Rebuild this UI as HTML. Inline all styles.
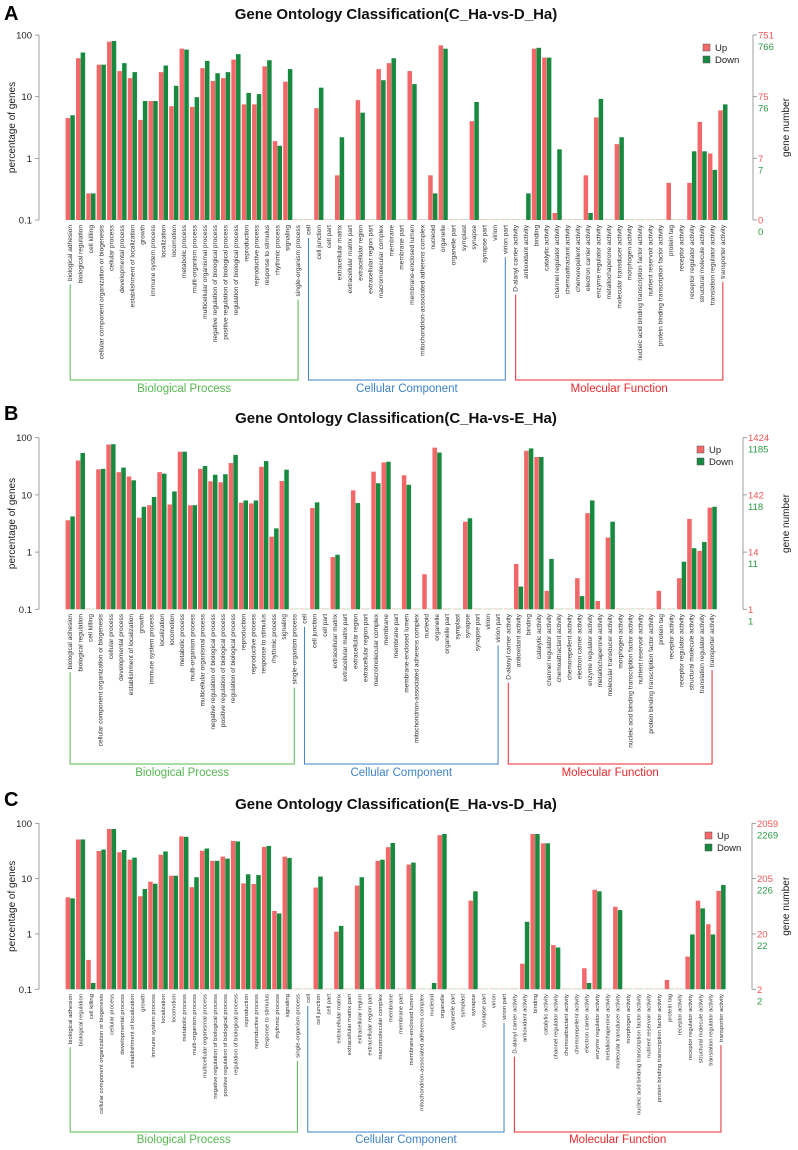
<!DOCTYPE html>
<html><head><meta charset="utf-8"><style>
html,body{margin:0;padding:0;background:#fff;}
svg{display:block;font-family:"Liberation Sans",Arial,sans-serif;}
</style></head><body>
<svg id="chart" width="798" height="1150" viewBox="0 0 798 1150" xmlns="http://www.w3.org/2000/svg"></svg>
<script>
const categories = ["biological adhesion","biological regulation","cell killing","cellular component organization or biogenesis","cellular process","developmental process","establishment of localization","growth","immune system process","localization","locomotion","metabolic process","multi-organism process","multicellular organismal process","negative regulation of biological process","positive regulation of biological process","regulation of biological process","reproduction","reproductive process","response to stimulus","rhythmic process","signaling","single-organism process",
"cell","cell junction","cell part","extracellular matrix","extracellular matrix part","extracellular region","extracellular region part","macromolecular complex","membrane","membrane part","membrane-enclosed lumen","mitochondrion-associated adherens complex","nucleoid","organelle","organelle part","symplast","synapse","synapse part","virion","virion part",
"D-alanyl carrier activity","antioxidant activity","binding","catalytic activity","channel regulator activity","chemoattractant activity","chemorepellent activity","electron carrier activity","enzyme regulator activity","metallochaperone activity","molecular transducer activity","morphogen activity","nucleic acid binding transcription factor activity","nutrient reservoir activity","protein binding transcription factor activity","protein tag","receptor activity","receptor regulator activity","structural molecule activity","translation regulator activity","transporter activity"];
const groupNames = ["Biological Process","Cellular Component","Molecular Function"];
const groupStart = [0,23,43];
const groupEnd = [22,42,63];
const leftTicks = [100,10,1,0.1];
const leftTickLabels = ["100","10","1","0.1"];

const aUp = [4.5,42,0.27,33,78,26,20,4.2,8.5,25,7,60,6.8,29,18,20,40,7.5,7.5,31,1.9,17.5,0,
 0,6.5,0,0.53,0,8.8,0,28,35,0,26,0,0.53,68,0,0,4,0,0,0,
 0,0,60,43,0.13,0,0,0.53,4.6,0,1.7,0,0,0,0,0.4,0,0.4,3.9,1.2,6];
const aDown = [5,52,0.27,33,80,35,25,8.5,8.5,32,15,58,9.8,38,24,25,49,11.5,11,39,1.6,28,0,
 0,14,0,2.2,0,5.5,0,18.5,42,0,16,0,0.27,60,0,0,8.2,0,0,0,
 0,0.27,62,43,1.4,0,0,0.13,9.2,0,2.2,0,0,0,0,0,0,1.3,1.3,0.65,7.5];
const bUp = [3.6,40,0,28,76,25,21,4,6.6,25,6.8,57,6.6,28.5,17.3,16.6,36,7.3,7.1,31,1.86,17.5,0,
 0,5.9,0,0.82,0,12,0,25.5,37,0,22,0,0.41,67,0,0,3.4,0,0,0,
 0,0.62,59,46,0.21,0,0,0.35,4.8,0.14,1.8,0,0,0,0,0.21,0,0.35,3.8,1.05,6];
const bDown = [4.2,54,0,28.5,77,30,18,6.2,9.2,23.5,11.5,57,6.6,32,22.5,23,50,8,8,39,2.6,27.6,0,
 0,7.4,0,0.9,0,7.2,0,16,38,0,15,0,0,55,0,0,3.9,0,0,0,
 0,0.25,65,46,0.76,0,0,0.17,8,0,3.4,0,0,0,0,0,0,0.68,1.17,1.5,6.2];
const cUp = [4.6,51,0.34,31.6,79,30,22,4.8,8.8,27,11.3,58,7,32,21,25,48,8.2,8,37.4,2.6,25,0,
 0,6.9,0,1.1,0,7.5,0,21,37,0,18,0,0,61,0,0,4,0,0,0,
 0,0.29,64,43.5,0.63,0,0,0.24,6.3,0,3.1,0,0,0,0,0.147,0,0.39,4,1.5,6];
const cDown = [4.4,51,0.13,33.5,79,33,24,6.5,8.1,31,11.3,57,10.6,35,21,23,47,12,11.6,39,2.35,23.7,0,
 0,10.9,0,1.4,0,10.6,0,22,44,0,19.5,0,0.13,64,0,0,5.9,0,0,0,
 0,1.66,64,43.5,0.57,0,0,0.13,5.9,0,2.7,0,0,0,0,0,0,0.98,2.9,0.98,7.7];
const aRightUp = ["751","75","7","0"], aRightDown = ["766","76","7","0"];
const bRightUp = ["1424","142","14","1"], bRightDown = ["1185","118","11","1"];
const cRightUp = ["2059","205","20","2"], cRightDown = ["2269","226","22","2"];
const titles = ["Gene Ontology Classification(C_Ha-vs-D_Ha)","Gene Ontology Classification(C_Ha-vs-E_Ha)","Gene Ontology Classification(E_Ha-vs-D_Ha)"];
const letters = ["A","B","C"];

const panels = [
 {up:aUp,down:aDown,ru:aRightUp,rd:aRightDown,top:35,bottom:220,x0:65,slot:10.36,rx:753,titleY:19,letterY:20,labelTop:225,fs:6.6,brY:380,gY:392,legX:703,legY:44},
 {up:bUp,down:bDown,ru:bRightUp,rd:bRightDown,top:437.7,bottom:609.3,x0:65,slot:10.19,rx:743,titleY:423,letterY:420,labelTop:614,fs:6.5,brY:764,gY:776,legX:697,legY:446},
 {up:cUp,down:cDown,ru:cRightUp,rd:cRightDown,top:823.3,bottom:989.3,x0:65,slot:10.33,rx:752,titleY:809,letterY:806,labelTop:994,fs:5.9,brY:1132,gY:1143,legX:705,legY:832}
];
const NS="http://www.w3.org/2000/svg";
const svg=document.getElementById('chart');
function mk(tag,attrs,parent,txt){const e=document.createElementNS(NS,tag);for(const k in attrs)e.setAttribute(k,attrs[k]);if(txt!==undefined)e.textContent=txt;(parent||svg).appendChild(e);return e;}
const RED="#f26868", GREEN="#178a3f", GCOL=["#55b84f","#3d82c8","#e8292c"];

panels.forEach((p,pi)=>{
 const g=mk('g',{});
 
 
 const yScale=v=>p.bottom-(Math.log10(v)+1)/3*(p.bottom-p.top);
 const xSlot=i=>p.x0+i*p.slot;
 let t=mk('text',{x:4,y:p.letterY,'font-size':20,'font-weight':'bold',fill:'#000'},g,letters[pi]);
 
 t=mk('text',{x:396,y:p.titleY,'font-size':15,'font-weight':'bold','text-anchor':'middle',fill:'#111'},g,titles[pi]);
 
 const la=mk('line',{x1:39,x2:39,y1:p.top,y2:p.bottom,stroke:'#888','stroke-width':0.8},g);
 
 leftTicks.forEach((v,k)=>{
  const y=yScale(v);
  mk('line',{x1:35,x2:39,y1:y,y2:y,stroke:'#888','stroke-width':0.8},g);
  const tl=mk('text',{x:32,y:y+3.5,'font-size':9.5,'text-anchor':'end',fill:'#222'},g,leftTickLabels[k]);
  
 });
 const cy=(p.top+p.bottom)/2;
 t=mk('text',{x:0,y:0,'font-size':10,'text-anchor':'middle',fill:'#222',transform:`translate(15,${cy}) rotate(-90)`},g,'percentage of genes');
 
 const ra=mk('line',{x1:p.rx,x2:p.rx,y1:p.top,y2:p.bottom,stroke:'#888','stroke-width':0.8},g);
 
 leftTicks.forEach((v,k)=>{
  const y=yScale(v);
  mk('line',{x1:p.rx,x2:p.rx+4,y1:y,y2:y,stroke:'#888','stroke-width':0.8},g);
  let r=mk('text',{x:p.rx+5,y:y+3.5,'font-size':9.5,fill:'#f05555'},g,p.ru[k]);
  
  r=mk('text',{x:p.rx+5,y:y+15,'font-size':9.5,fill:'#2a9a45'},g,p.rd[k]);
  
 });
 t=mk('text',{x:0,y:0,'font-size':10,'text-anchor':'middle',fill:'#222',transform:`translate(789,${cy}) rotate(-90)`},g,'gene number');
 
 categories.forEach((c,i)=>{
  const x=xSlot(i);
  [[p.up[i],RED,'#f7b5b5',0.6],[p.down[i],GREEN,'#a9d9b5',5.3]].forEach(([v,col,light,off],s)=>{
   let r;
   if(v>0){const y=yScale(v);r=mk('rect',{x:x+off,y:y,width:4.5,height:p.bottom-y,fill:col},g);}
   else{r=mk('rect',{x:x+off,y:p.bottom-0.8,width:4.5,height:0.8,fill:light},g);}
   
   
  });
 });
 const labelEnds=[];
 categories.forEach((c,i)=>{
  const cx=xSlot(i)+p.slot/2+2;
  const l=mk('text',{x:0,y:0,'font-size':p.fs,'text-anchor':'end',fill:'#333',transform:`translate(${cx},${p.labelTop}) rotate(-90)`},g,c);
  
  let len=c.length*p.fs*0.48;try{len=l.getComputedTextLength()||len;}catch(e){}
  labelEnds.push(p.labelTop+len+3);
 });
 [['Up',RED],['Down',GREEN]].forEach(([n,col],k)=>{
  const ly=p.legY+k*12;
  const r=mk('rect',{x:p.legX,y:ly,width:7,height:7,fill:col,stroke:'#555','stroke-width':0.5},g);
  
  const lt=mk('text',{x:p.legX+12,y:ly+7,'font-size':9.5,fill:'#222'},g,n);
  
 });
 groupNames.forEach((nm,k)=>{
  const xa=xSlot(groupStart[k])+p.slot/2, xb=xSlot(groupEnd[k])+p.slot/2;
  const ya=labelEnds[groupStart[k]], yb=labelEnds[groupEnd[k]];
  const br=mk('path',{d:`M${xa},${ya} V${p.brY} H${xb} V${yb}`,fill:'none',stroke:GCOL[k],'stroke-width':1},g);
  
  const gt=mk('text',{x:(xa+xb)/2,y:p.gY,'font-size':11.5,'text-anchor':'middle',fill:GCOL[k]},g,nm);
  
 });
});
</script>
</body></html>
